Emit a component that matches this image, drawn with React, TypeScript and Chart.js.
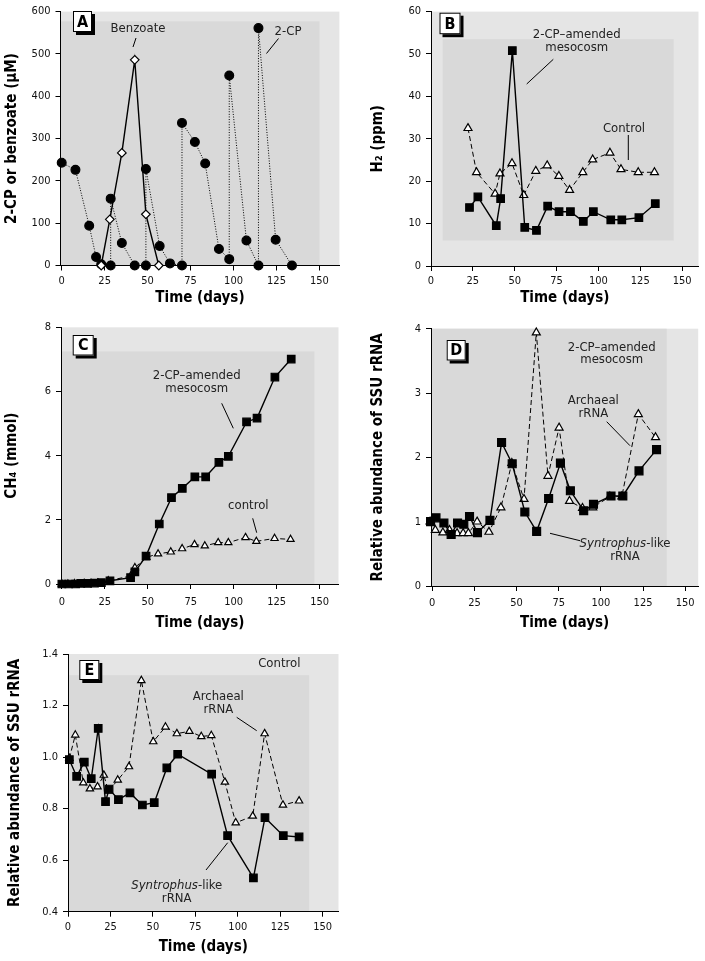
import React, { useEffect, useRef } from "react";
import { Chart, registerables } from "chart.js";

Chart.register(...registerables);

const FONT = '"Liberation Sans Narrow", "DejaVu Sans Condensed", "Arial Narrow", "Liberation Sans", sans-serif';
const OUTER_BG = "#e5e5e5";
const INNER_BG = "#d9d9d9";

// ---------------- DATA ----------------
const xTickValues = [0, 25, 50, 75, 100, 125, 150];

// Panel A: 2-CP and benzoate (µM)
const aYTicks = [0, 100, 200, 300, 400, 500, 600];
const a2cpDays = [0, 8, 16, 20, 23, 28.5, 28.5, 35, 42.5, 49, 49, 57, 63, 70, 70, 77.5, 83.5, 91.5, 97.5, 97.5, 107.5, 114.5, 114.5, 124.5, 134];
const a2cpValues = [243, 226, 94, 20, 3, 0, 158, 53, 0, 0, 228, 46, 5, 0, 337, 292, 241, 39, 15, 449, 59, 0, 561, 61, 0];
const aBenzoateDays = [23, 28, 35, 42.5, 49, 56.5];
const aBenzoateValues = [0, 109, 266, 486, 121, 0];

// Panel B: H2 (ppm)
const bYTicks = [0, 10, 20, 30, 40, 50, 60];
const bAmendedDays = [23, 28, 39, 41.6, 48.6, 56, 63, 69.7, 76.5, 83.3, 91, 97, 107.4, 114, 124.2, 134];
const bAmendedValues = [13.8, 16.3, 9.5, 15.9, 50.8, 9.1, 8.4, 14.1, 12.8, 12.8, 10.5, 12.8, 10.9, 10.9, 11.4, 14.7];
const bControlDays = [22.1, 27.2, 38.3, 41.2, 48.4, 55.4, 62.6, 69.4, 76.4, 82.8, 90.7, 96.6, 106.9, 113.5, 123.8, 133.5];
const bControlValues = [32.5, 22.1, 17, 21.8, 24.2, 16.7, 22.4, 23.7, 21.2, 17.9, 22.1, 25.1, 26.7, 22.8, 22.1, 22.1];

// Panel C: CH4 (mmol)
const cYTicks = [0, 2, 4, 6, 8];
const cAmendedDays = [0, 4, 8, 11, 15, 19, 23, 28, 40, 42.5, 49, 56.7, 63.8, 70.1, 77.4, 83.7, 91.4, 96.9, 107.5, 113.6, 124, 133.5];
const cAmendedValues = [0, 0, 0, 0.02, 0.02, 0.03, 0.04, 0.1, 0.2, 0.38, 0.87, 1.87, 2.69, 2.98, 3.34, 3.34, 3.79, 3.98, 5.05, 5.17, 6.45, 7.01];
const cControlDays = [0, 3.5, 7.3, 13, 17, 21, 27, 40, 42.5, 49.2, 56, 63.4, 70, 77.2, 83.2, 91, 96.9, 106.9, 113.2, 123.8, 133.1];
const cControlValues = [0, 0, 0.01, 0.02, 0.02, 0.03, 0.1, 0.25, 0.51, 0.83, 0.94, 1.0, 1.1, 1.23, 1.19, 1.29, 1.29, 1.45, 1.33, 1.42, 1.39];

// Panel D: relative abundance, 2-CP-amended mesocosm
const dYTicks = [0, 1, 2, 3, 4];
const dSyntrophusDays = [-1, 2.2, 6.9, 11.2, 15, 18.7, 22.1, 26.8, 34.2, 41.1, 47.4, 54.9, 61.9, 69, 76, 81.9, 89.8, 95.6, 106, 113, 122.6, 133];
const dSyntrophusValues = [1.0, 1.06, 0.98, 0.8, 0.98, 0.96, 1.08, 0.83, 1.02, 2.23, 1.9, 1.15, 0.85, 1.36, 1.91, 1.48, 1.17, 1.27, 1.4, 1.4, 1.79, 2.12];
const dArchaealDays = [-1.3, 1.8, 6.3, 10.2, 14.7, 18.3, 21.4, 26.6, 33.6, 40.7, 47.2, 54.4, 61.7, 68.6, 75.2, 81.4, 89.1, 95.2, 105.3, 112.4, 122.2, 132.4];
const dArchaealValues = [1.0, 0.87, 0.83, 0.87, 0.82, 0.82, 0.82, 1.0, 0.84, 1.22, 1.91, 1.35, 3.94, 1.71, 2.46, 1.32, 1.21, 1.22, 1.39, 1.39, 2.67, 2.31];

// Panel E: relative abundance, control
const eYTicks = [0.4, 0.6, 0.8, 1.0, 1.2, 1.4];
const eSyntrophusDays = [0.8, 5.1, 9.6, 13.7, 17.8, 22.1, 24.2, 29.7, 36.5, 43.8, 50.8, 58.2, 64.6, 84.6, 94, 109.2, 116, 126.8, 136.1];
const eSyntrophusValues = [0.99, 0.925, 0.98, 0.916, 1.111, 0.827, 0.876, 0.835, 0.861, 0.814, 0.823, 0.958, 1.011, 0.934, 0.695, 0.531, 0.765, 0.695, 0.69];
const eArchaealDays = [0.8, 4.3, 9, 12.9, 17.4, 21.1, 23.8, 29.3, 35.9, 43.2, 50.2, 57.4, 64.1, 71.5, 78.5, 84.4, 92.4, 98.8, 108.8, 115.8, 126.6, 136.1];
const eArchaealValues = [0.995, 1.086, 0.9, 0.877, 0.885, 0.93, 0.868, 0.911, 0.963, 1.297, 1.06, 1.117, 1.091, 1.1, 1.08, 1.084, 0.903, 0.745, 0.771, 1.091, 0.814, 0.83];

// ---------------- HELPERS ----------------
type Pt = { x: number; y: number };
const zip = (d: number[], v: number[]): Pt[] => d.map((x, i) => ({ x, y: v[i] }));

type Marker = "circle" | "diamond" | "square" | "triangle";
type LineKind = "solid" | "dashed" | "dotted";

function series(days: number[], values: number[], marker: Marker, line: LineKind, size = 1) {
  const styleMap: Record<Marker, { ps: string; r: number; fill: string }> = {
    circle: { ps: "circle", r: 4.4, fill: "#000" },
    diamond: { ps: "rectRot", r: 4.3, fill: "#fff" },
    square: { ps: "rect", r: 5.6, fill: "#000" },
    triangle: { ps: "triangle", r: 4.6, fill: "#fff" },
  };
  const s = styleMap[marker];
  const dash = line === "dashed" ? [5, 3] : line === "dotted" ? [1, 1.6] : [];
  return {
    data: zip(days, values),
    borderColor: "#000",
    borderWidth: line === "solid" ? 1.4 : 1,
    borderDash: dash,
    pointStyle: s.ps,
    pointRadius: s.r * size,
    pointHoverRadius: s.r * size,
    pointBackgroundColor: s.fill,
    pointBorderColor: "#000",
    pointBorderWidth: 1.2,
    tension: 0,
    fill: false,
    clip: false,
  };
}

type TextItem = { parts: { t: string; italic?: boolean }[]; x: number; y: number };
const txt = (t: string, x: number, y: number): TextItem => ({ parts: [{ t }], x, y });
const synText = (x: number, y: number): TextItem => ({ parts: [{ t: "Syntrophus", italic: true }, { t: "-like" }], x, y });

type PanelDef = {
  id: string;
  canvas: { left: number; top: number; width: number; height: number };
  area: { l: number; t: number; r: number; b: number };
  xMin: number;
  xMax: number;
  yMin: number;
  yMax: number;
  yTicks: number[];
  yDec: number;
  yTitle: string;
  yTitleX: number;
  xTitleY: number;
  xTickPad: number;
  inner: { x0: number; x1: number; y0: number; y1: number };
  box: { x: number; y: number; w: number; h: number };
  texts: TextItem[];
  leaders: number[][];
  datasets: any[];
};

const panels: PanelDef[] = [
  {
    id: "A",
    canvas: { left: 0, top: 0, width: 345, height: 310 },
    area: { l: 60.5, t: 7, r: 340, b: 265.5 },
    xMin: -0.7, xMax: 161.6, yMin: 0, yMax: 600, yTicks: aYTicks, yDec: 0,
    yTitle: "2-CP or benzoate (μM)", yTitleX: 12, xTitleY: 298, xTickPad: 4,
    inner: { x0: -0.7, x1: 150, y0: 0, y1: 577 },
    box: { x: 73, y: 11, w: 19, h: 21 },
    texts: [txt("Benzoate", 138, 29), txt("2-CP", 288, 31.5)],
    leaders: [[136, 38], [133, 47], [278.5, 38.5], [266.5, 53.5]],
    datasets: [
      series(aBenzoateDays, aBenzoateValues, "diamond", "solid"),
      series(a2cpDays, a2cpValues, "circle", "dotted"),
    ],
  },
  {
    id: "B",
    canvas: { left: 350, top: 0, width: 355, height: 310 },
    area: { l: 431, t: 7.3, r: 705, b: 266 },
    xMin: 0, xMax: 159.8, yMin: 0, yMax: 60, yTicks: bYTicks, yDec: 0,
    yTitle: "H₂ (ppm)", yTitleX: 378, xTitleY: 298, xTickPad: 4,
    inner: { x0: 7, x1: 145, y0: 6, y1: 53.5 },
    box: { x: 439.5, y: 12.7, w: 21, h: 21.5 },
    texts: [txt("2-CP–amended", 576.7, 35), txt("mesocosm", 576.7, 47.7), txt("Control", 624, 128.3)],
    leaders: [[553.3, 59.3], [526.7, 84], [628.3, 135], [628.3, 160]],
    datasets: [
      series(bAmendedDays, bAmendedValues, "square", "solid", 0.95),
      series(bControlDays, bControlValues, "triangle", "dashed"),
    ],
  },
  {
    id: "C",
    canvas: { left: 0, top: 310, width: 345, height: 330 },
    area: { l: 61, t: 327.3, r: 340, b: 584 },
    xMin: -0.5, xMax: 161, yMin: 0, yMax: 8, yTicks: cYTicks, yDec: 0,
    yTitle: "CH₄ (mmol)", yTitleX: 12, xTitleY: 623, xTickPad: 7,
    inner: { x0: -0.5, x1: 147, y0: 0, y1: 7.25 },
    box: { x: 72.7, y: 335, w: 21, h: 20.5 },
    texts: [txt("2-CP–amended", 196.7, 376), txt("mesocosm", 196.7, 388.3), txt("control", 248.3, 505.7)],
    leaders: [[221.7, 403.3], [233.3, 428.3], [252.7, 518.3], [256.7, 532.7]],
    datasets: [
      series(cAmendedDays, cAmendedValues, "square", "solid", 0.95),
      series(cControlDays, cControlValues, "triangle", "dashed", 0.9),
    ],
  },
  {
    id: "D",
    canvas: { left: 350, top: 310, width: 355, height: 330 },
    area: { l: 431, t: 328.7, r: 705, b: 586 },
    xMin: -0.75, xMax: 157.7, yMin: 0, yMax: 4, yTicks: dYTicks, yDec: 0,
    yTitle: "Relative abundance of SSU rRNA", yTitleX: 378, xTitleY: 623, xTickPad: 6,
    inner: { x0: -0.75, x1: 139, y0: 0, y1: 4 },
    box: { x: 446.7, y: 340, w: 19, h: 20.5 },
    texts: [
      txt("2-CP–amended", 611.7, 347.7), txt("mesocosm", 611.7, 360),
      txt("Archaeal", 593.3, 401), txt("rRNA", 593.3, 413.3),
      synText(625, 543.3), txt("rRNA", 625, 556.7),
    ],
    leaders: [[606.7, 421.7], [630, 445.7], [550, 533.3], [580, 540.7]],
    datasets: [
      series(dSyntrophusDays, dSyntrophusValues, "square", "solid"),
      series(dArchaealDays, dArchaealValues, "triangle", "dashed"),
    ],
  },
  {
    id: "E",
    canvas: { left: 0, top: 640, width: 345, height: 321 },
    area: { l: 68, t: 654, r: 340, b: 911.7 },
    xMin: 0, xMax: 159.3, yMin: 0.4, yMax: 1.4, yTicks: eYTicks, yDec: 1,
    yTitle: "Relative abundance of SSU rRNA", yTitleX: 15, xTitleY: 946.7, xTickPad: 4,
    inner: { x0: 0, x1: 142, y0: 0.4, y1: 1.318 },
    box: { x: 79.3, y: 660, w: 20, h: 20 },
    texts: [
      txt("Control", 279.3, 663.3),
      txt("Archaeal", 218.3, 696.7), txt("rRNA", 218.3, 710),
      synText(176.7, 886), txt("rRNA", 176.7, 898.7),
    ],
    leaders: [[236.7, 717.3], [256.7, 730.7], [206, 870], [227.7, 842.7]],
    datasets: [
      series(eSyntrophusDays, eSyntrophusValues, "square", "solid", 0.95),
      series(eArchaealDays, eArchaealValues, "triangle", "dashed", 0.92),
    ],
  },
];

function makeDeco(p: PanelDef) {
  const ox = p.canvas.left;
  const oy = p.canvas.top;
  return {
    id: "deco" + p.id,
    beforeDraw(chart: any) {
      const { ctx, chartArea: a, scales } = chart;
      const xs = scales.x;
      const ys = scales.y;
      ctx.save();
      ctx.fillStyle = OUTER_BG;
      ctx.fillRect(a.left, a.top, a.right - a.left, a.bottom - a.top);
      const x0 = Math.max(a.left, xs.getPixelForValue(p.inner.x0));
      const x1 = Math.min(a.right, xs.getPixelForValue(p.inner.x1));
      const y0 = Math.min(a.bottom, ys.getPixelForValue(p.inner.y0));
      const y1 = Math.max(a.top, ys.getPixelForValue(p.inner.y1));
      ctx.fillStyle = INNER_BG;
      ctx.fillRect(x0, y1, x1 - x0, y0 - y1);
      ctx.restore();
    },
    afterDraw(chart: any) {
      const ctx: CanvasRenderingContext2D = chart.ctx;
      ctx.save();
      const bx = p.box.x - ox;
      const by = p.box.y - oy;
      ctx.fillStyle = "#000";
      ctx.fillRect(bx + 3, by + 3, p.box.w, p.box.h);
      ctx.fillStyle = "#fff";
      ctx.fillRect(bx, by, p.box.w, p.box.h);
      ctx.strokeStyle = "#000";
      ctx.lineWidth = 1;
      ctx.strokeRect(bx + 0.5, by + 0.5, p.box.w - 1, p.box.h - 1);
      ctx.fillStyle = "#000";
      ctx.font = `bold 16px ${FONT}`;
      ctx.textAlign = "center";
      ctx.textBaseline = "middle";
      ctx.fillText(p.id, bx + p.box.w / 2, by + p.box.h / 2 + 1);

      ctx.fillStyle = "#222";
      ctx.textBaseline = "middle";
      ctx.textAlign = "left";
      for (const item of p.texts) {
        const fonts = item.parts.map((pt) => `${pt.italic ? "italic " : ""}13px ${FONT}`);
        let total = 0;
        const widths = item.parts.map((pt, i) => {
          ctx.font = fonts[i];
          const w = ctx.measureText(pt.t).width;
          total += w;
          return w;
        });
        let x = item.x - ox - total / 2;
        item.parts.forEach((pt, i) => {
          ctx.font = fonts[i];
          ctx.fillText(pt.t, x, item.y - oy);
          x += widths[i];
        });
      }
      ctx.strokeStyle = "#000";
      ctx.lineWidth = 1;
      for (let i = 0; i + 1 < p.leaders.length; i += 2) {
        const [x1, y1] = p.leaders[i];
        const [x2, y2] = p.leaders[i + 1];
        ctx.beginPath();
        ctx.moveTo(x1 - ox, y1 - oy);
        ctx.lineTo(x2 - ox, y2 - oy);
        ctx.stroke();
      }
      ctx.restore();
    },
  };
}

function buildConfig(p: PanelDef): any {
  const titleFont = { family: FONT, size: 15, weight: "bold", lineHeight: 1 };
  const tickFont = { family: FONT, size: 11 };
  const yW = p.area.l - p.canvas.left;
  const xH = p.canvas.top + p.canvas.height - p.area.b;
  return {
    type: "line",
    data: { datasets: p.datasets },
    plugins: [makeDeco(p)],
    options: {
      animation: false,
      responsive: false,
      maintainAspectRatio: false,
      devicePixelRatio: 1,
      events: [],
      layout: {
        padding: {
          left: 0,
          bottom: 0,
          top: p.area.t - p.canvas.top,
          right: p.canvas.left + p.canvas.width - p.area.r,
        },
      },
      plugins: { legend: { display: false }, tooltip: { enabled: false }, title: { display: false } },
      scales: {
        x: {
          type: "linear",
          min: p.xMin,
          max: p.xMax,
          afterBuildTicks: (s: any) => {
            s.ticks = xTickValues.map((v) => ({ value: v }));
          },
          afterFit: (s: any) => {
            s.height = xH;
          },
          grid: { drawOnChartArea: false, drawTicks: true, tickLength: 5, color: "#000", lineWidth: 1 },
          border: { display: true, color: "#000", width: 1 },
          ticks: {
            color: "#111",
            font: tickFont,
            padding: p.xTickPad,
            maxRotation: 0,
            autoSkip: false,
            callback: (v: any) => String(v),
          },
          title: {
            display: true,
            text: "Time (days)",
            color: "#000",
            font: titleFont,
            padding: { top: 0, bottom: p.canvas.top + p.canvas.height - p.xTitleY - 7.5 },
          },
        },
        y: {
          type: "linear",
          min: p.yMin,
          max: p.yMax,
          afterBuildTicks: (s: any) => {
            s.ticks = p.yTicks.map((v) => ({ value: v }));
          },
          afterFit: (s: any) => {
            s.width = yW;
          },
          grid: { drawOnChartArea: false, drawTicks: true, tickLength: 5, color: "#000", lineWidth: 1 },
          border: { display: true, color: "#000", width: 1 },
          ticks: {
            color: "#111",
            font: tickFont,
            padding: 5,
            autoSkip: false,
            callback: (v: any) => Number(v).toFixed(p.yDec),
          },
          title: {
            display: true,
            text: p.yTitle,
            color: "#000",
            font: titleFont,
            padding: { top: p.yTitleX - p.canvas.left - 7.5, bottom: 0 },
          },
        },
      },
    },
  };
}

function Panel({ p }: { p: PanelDef }) {
  const ref = useRef<HTMLCanvasElement>(null);
  useEffect(() => {
    if (!ref.current) return;
    const chart = new Chart(ref.current, buildConfig(p));
    return () => chart.destroy();
  }, [p]);
  return (
    <canvas
      ref={ref}
      width={p.canvas.width}
      height={p.canvas.height}
      style={{
        position: "absolute",
        left: p.canvas.left,
        top: p.canvas.top,
        width: p.canvas.width,
        height: p.canvas.height,
      }}
    />
  );
}

export default function App() {
  useEffect(() => {
    document.body.style.margin = "0";
    document.body.style.background = "#fff";
  }, []);
  return (
    <div style={{ position: "absolute", left: 0, top: 0, width: 705, height: 961, background: "#fff", overflow: "hidden" }}>
      {panels.map((p) => (
        <Panel key={p.id} p={p} />
      ))}
    </div>
  );
}
